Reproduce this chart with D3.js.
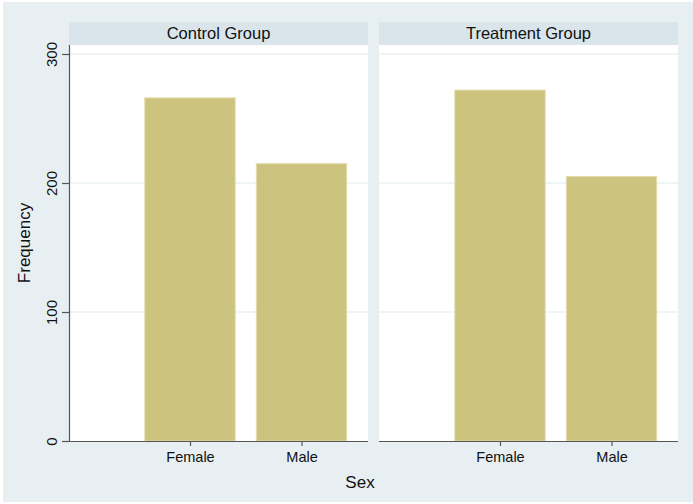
<!DOCTYPE html>
<meta charset="utf-8">
<style>

body {
  margin: 0;
  background: #fff;
  font-family: "Liberation Sans", Arial, Helvetica, sans-serif;
}

.grid line {
  stroke: #eaf1f3;
  stroke-width: 1.5;
}

.axis path, .axis line {
  stroke: #555;
  stroke-width: 1.2;
}

.axis text {
  fill: #111;
  font-size: 14.5px;
}

.bar {
  fill: #cbc37e;
  stroke: #e2dcab;
  stroke-width: 1;
}

</style>
<svg id="chart"></svg>
<script src="https://d3js.org/d3.v7.min.js"></script>
<script>

  // data
  let groups = ["Control Group", "Treatment Group"];
  let sexes = ["Female", "Male"];
  let sexCodes = [1, 2];
  let control = [266, 215];
  let treatment = [272, 205];
  let yTicks = [0, 100, 200, 300];

  let series = [control, treatment];

  let svg = d3.select("#chart")
  .attr("width", 693)
  .attr("height", 504);

  // outer graph region
  svg.append("rect")
  .attr("x", 3)
  .attr("y", 2)
  .attr("width", 690)
  .attr("height", 500)
  .attr("fill", "#e8eff2");

  let panelW = 299,
  headerTop = 22,
  plotTop = 45,
  plotBottom = 441,
  panelLeft = [69, 379];

  let y = d3.scaleLinear()
  .domain([0, 300])
  .range([plotBottom, 54]);

  let x = d3.scaleLinear()
  .domain([-0.085, 2.596])
  .range([0, panelW]);

  let barW = x(0.81) - x(0);

  groups.forEach((name, i) => {
    let g = svg.append("g")
    .attr("transform", "translate(" + panelLeft[i] + ",0)");

    // header strip
    g.append("rect")
    .attr("x", 0)
    .attr("y", headerTop)
    .attr("width", panelW)
    .attr("height", plotTop - headerTop)
    .attr("fill", "#d9e5eb");

    g.append("text")
    .attr("x", panelW / 2)
    .attr("y", 38.5)
    .attr("text-anchor", "middle")
    .style("font-size", "16.5px")
    .style("fill", "#111")
    .text(name);

    // plot area
    g.append("rect")
    .attr("x", 0)
    .attr("y", plotTop)
    .attr("width", panelW)
    .attr("height", plotBottom - plotTop)
    .attr("fill", "#fff");

    g.append("g")
    .attr("class", "grid")
    .selectAll("line")
    .data(yTicks.filter(d => d > 0))
    .enter()
    .append("line")
    .attr("x1", 0)
    .attr("x2", panelW)
    .attr("y1", d => y(d))
    .attr("y2", d => y(d));

    let data = sexCodes.map((c, j) => ({code: c, label: sexes[j], value: series[i][j]}));

    g.selectAll(".bar")
    .data(data)
    .enter()
    .append("rect")
    .attr("class", "bar")
    .attr("x", d => x(d.code) - barW / 2)
    .attr("y", d => y(d.value))
    .attr("width", barW)
    .attr("height", d => plotBottom - y(d.value));

    let xAxis = g.append("g")
    .attr("class", "axis axis--x")
    .attr("transform", "translate(0," + plotBottom + ")")
    .call(d3.axisBottom(x)
      .tickValues(sexCodes)
      .tickFormat((d, j) => sexes[j])
      .tickSize(5)
      .tickSizeOuter(0)
      .tickPadding(6));

    xAxis.select(".domain").attr("d", "M0,0.5H" + panelW);

    if (i === 0) {
      let yAxis = g.append("g")
      .attr("class", "axis axis--y")
      .call(d3.axisLeft(y)
        .tickValues(yTicks)
        .tickSize(7)
        .tickSizeOuter(0)
        .tickPadding(5));

      yAxis.select(".domain").attr("d", "M0.5," + plotBottom + "V" + plotTop);

      yAxis.selectAll(".tick text")
      .attr("x", null)
      .attr("dy", null)
      .attr("text-anchor", "middle")
      .attr("transform", "translate(-12,0) rotate(-90)")
      .style("font-size", "15px");
    }
  });

  svg.append("text")
  .attr("transform", "translate(30," + (plotTop + plotBottom) / 2 + ") rotate(-90)")
  .attr("text-anchor", "middle")
  .style("font-size", "17px")
  .style("fill", "#111")
  .text("Frequency");

  svg.append("text")
  .attr("x", 360)
  .attr("y", 488)
  .attr("text-anchor", "middle")
  .style("font-size", "17px")
  .style("fill", "#111")
  .text("Sex");

</script>
